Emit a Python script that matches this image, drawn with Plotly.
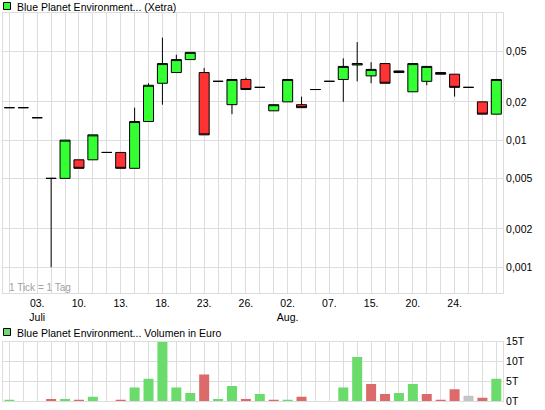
import plotly.graph_objects as go

# Trading days shown on the chart (one slot per day with a quote)
dates = [
    "2007-06-29", "2007-07-02", "2007-07-03", "2007-07-05", "2007-07-06",
    "2007-07-10", "2007-07-11", "2007-07-12", "2007-07-13", "2007-07-16",
    "2007-07-17", "2007-07-18", "2007-07-19", "2007-07-20", "2007-07-23",
    "2007-07-24", "2007-07-25", "2007-07-26", "2007-07-27", "2007-07-31",
    "2007-08-02", "2007-08-03", "2007-08-06", "2007-08-07", "2007-08-09",
    "2007-08-13", "2007-08-15", "2007-08-16", "2007-08-17", "2007-08-20",
    "2007-08-21", "2007-08-23", "2007-08-24", "2007-08-27", "2007-08-28",
    "2007-08-29",
]

opens = [
    0.018, 0.018, 0.015, 0.005, 0.005, 0.007, 0.007, 0.008, 0.008, 0.006,
    0.014, 0.028, 0.034, 0.043, 0.034, 0.029, 0.019, 0.030, 0.026, 0.017,
    0.020, 0.019, 0.025, 0.029, 0.030, 0.039, 0.032, 0.040, 0.034, 0.024,
    0.029, 0.034, 0.033, 0.026, 0.020, 0.016,
]
highs = [
    0.018, 0.018, 0.015, 0.005, 0.010, 0.007, 0.011, 0.008, 0.008, 0.018,
    0.028, 0.064, 0.047, 0.049, 0.037, 0.029, 0.030, 0.031, 0.026, 0.019,
    0.030, 0.022, 0.025, 0.029, 0.044, 0.059, 0.041, 0.040, 0.035, 0.040,
    0.038, 0.034, 0.033, 0.026, 0.020, 0.030,
]
lows = [
    0.018, 0.018, 0.015, 0.001, 0.005, 0.006, 0.007, 0.008, 0.006, 0.006,
    0.014, 0.019, 0.034, 0.043, 0.011, 0.029, 0.016, 0.025, 0.026, 0.017,
    0.020, 0.018, 0.025, 0.029, 0.020, 0.029, 0.028, 0.028, 0.034, 0.024,
    0.027, 0.033, 0.022, 0.026, 0.016, 0.016,
]
closes = [
    0.018, 0.018, 0.015, 0.005, 0.010, 0.006, 0.011, 0.008, 0.006, 0.014,
    0.027, 0.040, 0.043, 0.049, 0.011, 0.029, 0.030, 0.025, 0.026, 0.019,
    0.030, 0.018, 0.025, 0.029, 0.038, 0.040, 0.036, 0.028, 0.035, 0.040,
    0.038, 0.033, 0.026, 0.026, 0.016, 0.030,
]

# Turnover in euro per day
volumes = [
    250, 0, 0, 500, 500, 250, 1100, 0, 250, 3400,
    5600, 14900, 3400, 2000, 6700, 500, 3800, 500, 1800, 250,
    250, 1100, 0, 0, 3400, 11100, 4300, 1800, 2000, 4300,
    1800, 250, 3000, 1300, 800, 5600,
]

date_labels = {
    "2007-07-03": "03.<br>Juli", "2007-07-10": "10.", "2007-07-13": "13.",
    "2007-07-18": "18.", "2007-07-23": "23.", "2007-07-26": "26.",
    "2007-08-02": "02.<br>Aug.", "2007-08-07": "07.", "2007-08-15": "15.",
    "2007-08-20": "20.", "2007-08-24": "24.",
}

price_ticks = [0.001, 0.002, 0.005, 0.01, 0.02, 0.05]
price_tick_text = ["0,001", "0,002", "0,005", "0,01", "0,02", "0,05"]
volume_ticks = [0, 5000, 10000, 15000]
volume_tick_text = ["0T", "5T", "10T", "15T"]

GREEN = "#33ff33"
RED = "#ff3333"
VOL_UP = "#6bdb6b"
VOL_DOWN = "#dc6a6a"
VOL_FLAT = "#c4c4c4"
GRID = "#dddddd"
FONT = "Liberation Sans"

# Volume bar colour follows the change of the close against the previous day
vol_colors = []
prev = None
for c in closes:
    if prev is None or c > prev:
        vol_colors.append(VOL_UP)
    elif c < prev:
        vol_colors.append(VOL_DOWN)
    else:
        vol_colors.append(VOL_FLAT)
    prev = c

fig = go.Figure()
fig.add_trace(go.Candlestick(
    x=dates, open=opens, high=highs, low=lows, close=closes,
    increasing=dict(fillcolor=GREEN, line=dict(color="black", width=1)),
    decreasing=dict(fillcolor=RED, line=dict(color="black", width=1)),
    whiskerwidth=0, hoverinfo="skip", xaxis="x", yaxis="y",
))
fig.add_trace(go.Bar(
    x=dates, y=volumes, marker=dict(color=vol_colors, line=dict(width=0)),
    hoverinfo="skip", xaxis="x2", yaxis="y2",
))

ticktext = [date_labels.get(d, "") for d in dates]
xr = [-0.46, 35.48]

common_x = dict(
    type="category", range=xr, tickvals=dates, showgrid=True, gridcolor=GRID,
    gridwidth=1, showline=True, linecolor=GRID, linewidth=1, mirror=True,
    ticks="", zeroline=False, fixedrange=True,
)

fig.update_layout(
    width=545, height=410,
    margin=dict(l=3, r=42, t=13, b=9),
    paper_bgcolor="white", plot_bgcolor="white",
    showlegend=False,
    font=dict(family=FONT, size=10.5, color="black"),
    boxgap=0.28, boxgroupgap=0, bargap=0.28,
    xaxis=dict(common_x, domain=[0, 1], anchor="y", ticktext=ticktext,
               tickfont=dict(size=10.5, color="black"),
               rangeslider=dict(visible=False)),
    yaxis=dict(type="log", domain=[0.2776, 1], range=[-3.205, -1.0],
               side="right", anchor="x", tickvals=price_ticks,
               ticktext=price_tick_text, showgrid=True, gridcolor=GRID,
               showline=True, linecolor=GRID, mirror=True, ticks="",
               zeroline=False, tickfont=dict(size=10.5, color="black")),
    xaxis2=dict(common_x, domain=[0, 1], anchor="y2", matches="x",
                showticklabels=False),
    yaxis2=dict(domain=[0, 0.1528], range=[0, 15000], side="right",
                anchor="x2", tickvals=volume_ticks, ticktext=volume_tick_text,
                showgrid=True, gridcolor=GRID, showline=True, linecolor=GRID,
                mirror=True, ticks="", zeroline=False,
                tickfont=dict(size=10.5, color="black")),
)

H = 388.0  # plot-area height in px (410 - top - bottom margin)


def py(pix):
    return (401 - pix) / H


def px(pix):
    return (pix - 3) / 500.0


fig.add_annotation(text="Blue Planet Environment... (Xetra)", xref="paper",
                   yref="paper", x=px(15), y=py(6.5), xanchor="left",
                   yanchor="middle", showarrow=False,
                   font=dict(size=10.5, color="black"))
fig.add_annotation(text="Blue Planet Environment... Volumen in Euro",
                   xref="paper", yref="paper", x=px(15), y=py(332.5),
                   xanchor="left", yanchor="middle", showarrow=False,
                   font=dict(size=10.5, color="black"))
fig.add_annotation(text="1 Tick = 1 Tag", xref="paper", yref="paper",
                   x=px(7), y=py(287), xanchor="left", yanchor="middle",
                   showarrow=False, font=dict(size=10, color="#a0a0a0"))

fig.add_shape(type="rect", xref="paper", yref="paper",
              x0=px(3.5), x1=px(10.5), y0=py(9.5), y1=py(2.5),
              fillcolor=GREEN, line=dict(color="black", width=1))
fig.add_shape(type="rect", xref="paper", yref="paper",
              x0=px(3.5), x1=px(10.5), y0=py(335.5), y1=py(328.5),
              fillcolor=VOL_UP, line=dict(color="black", width=1))

fig.write_html("out.html")
